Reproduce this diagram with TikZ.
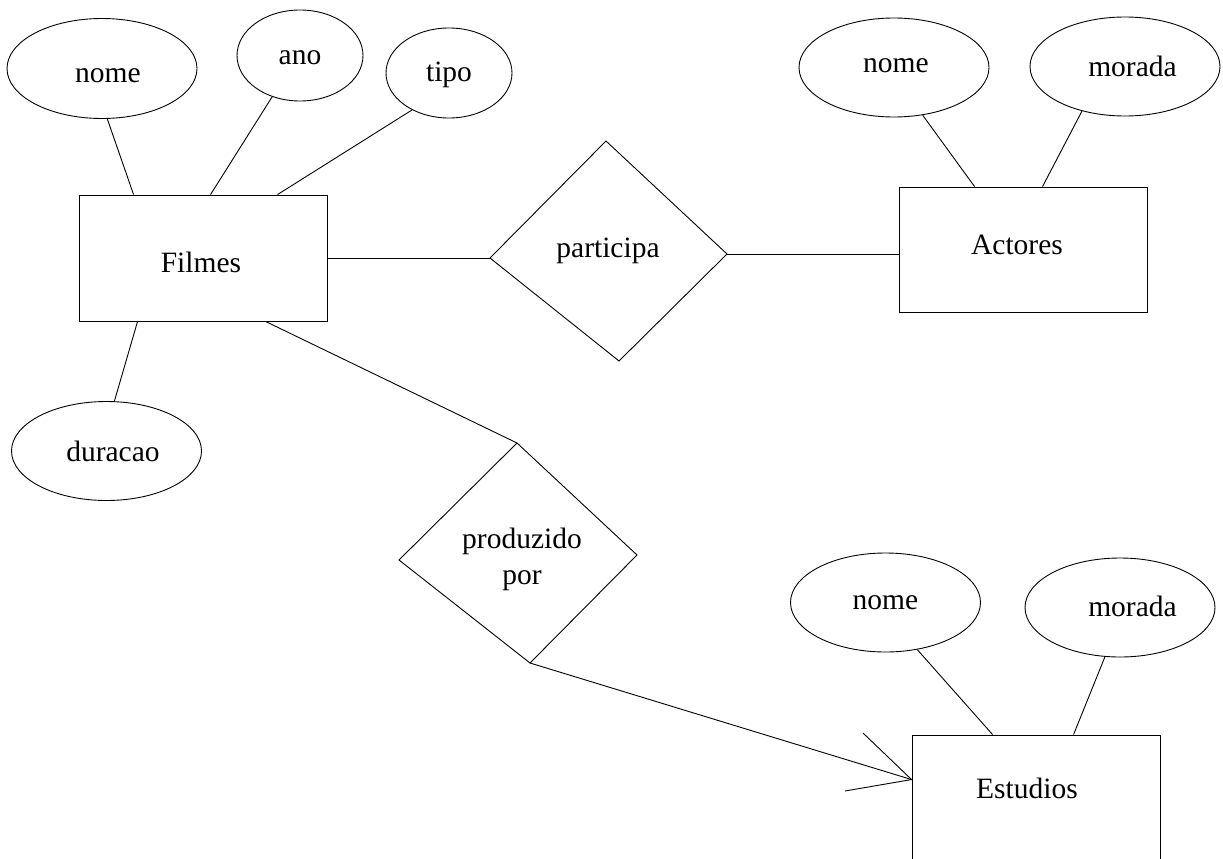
\documentclass[tikz,border=0pt]{standalone}
\usepackage{fontspec}
\setmainfont{Liberation Serif}
\usetikzlibrary{shapes.geometric}
\begin{document}
\begin{tikzpicture}[x=1pt,y=-1pt,line width=0.9pt,
  every node/.style={font=\fontsize{29.5}{36}\selectfont},
  entity/.style={draw,rectangle,inner sep=0pt,minimum width=248pt},
  attr/.style={draw,ellipse,inner sep=0pt},
  reltext/.style={inner sep=0pt,align=center},
  link/.style={draw,line width=0.9pt}]
\useasboundingbox (0,0) rectangle (1223,859);
\clip (0,0) rectangle (1223,859);
% entities
\node[entity,minimum height=126pt,label={[xshift=-2pt,yshift=-4pt]center:Filmes}] (filmes) at (203,258) {};
\node[entity,minimum height=125pt,label={[xshift=-6pt,yshift=5pt]center:Actores}] (actores) at (1023,249.5) {};
\node[entity,minimum height=127pt,label={[xshift=-9pt,yshift=10.5pt]center:Estudios}] (estudios) at (1036,798.5) {};
% attributes
\node[attr,minimum width=190pt,minimum height=100pt,label={[xshift=6pt,yshift=-7pt]center:nome}] (nomeF) at (102,68.5) {};
\node[attr,minimum width=126pt,minimum height=91pt,label={[yshift=-2pt]center:ano}] (anoF) at (300,55.5) {};
\node[attr,minimum width=126pt,minimum height=90pt,label={[yshift=-2pt]center:tipo}] (tipoF) at (449,73) {};
\node[attr,minimum width=190pt,minimum height=99pt,label={[xshift=6.5pt]center:duracao}] (duracaoF) at (106.5,451) {};
\node[attr,minimum width=190pt,minimum height=99pt,label={[xshift=2pt,yshift=2pt]center:nome}] (nomeA) at (894,67.5) {};
\node[attr,minimum width=190pt,minimum height=99pt,label={[xshift=7.5pt]center:morada}] (moradaA) at (1125,66.5) {};
\node[attr,minimum width=190pt,minimum height=99pt,label={center:nome}] (nomeE) at (885.5,602.5) {};
\node[attr,minimum width=190pt,minimum height=99pt,label={[xshift=12.5pt,yshift=1.5pt]center:morada}] (moradaE) at (1120,607.5) {};
% relationships (text and their four-cornered outlines)
\node[reltext] (participa) at (608,250.5) {participa};
\coordinate (pL) at (490,258);
\coordinate (pT) at (606,141);
\coordinate (pR) at (727,254);
\coordinate (pB) at (619,361);
\draw[link] (pL) -- (pT) -- (pR) -- (pB) -- cycle;
\node[reltext] (produzido) at (522,559) {produzido\\por};
\coordinate (qT) at (517,443);
\coordinate (qR) at (637,555);
\coordinate (qB) at (530,663);
\coordinate (qL) at (399,560);
\draw[link] (qT) -- (qR) -- (qB) -- (qL) -- cycle;
% attribute links
\draw[link] (nomeF.-84) -- ([xshift=55pt]filmes.north west);
\draw[link] (anoF.-124) -- ([xshift=132pt]filmes.north west);
\draw[link] (tipoF.-135) -- ([xshift=199pt]filmes.north west);
\draw[link] ([xshift=59pt]filmes.south west) -- (duracaoF.81);
\draw[link] (nomeA.-59) -- ([xshift=76pt]actores.north west);
\draw[link] (moradaA.-134) -- ([xshift=144pt]actores.north west);
\draw[link] (nomeE.-56) -- ([xshift=81pt]estudios.north west);
\draw[link] (moradaE.-107) -- ([xshift=162pt]estudios.north west);
% relationship links
\draw[link] (filmes.east |- pL) -- (pL);
\draw[link] (pR) -- (pR -| actores.west);
\draw[link] ([xshift=187pt]filmes.south west) -- (qT);
\coordinate (eIn) at ([yshift=-45pt]estudios.north west);
\coordinate (cfA) at (863,733);
\coordinate (cfB) at (845,791);
\draw[link] (qB) -- (eIn);
\draw[link] (cfA) -- (eIn) -- (cfB);
\end{tikzpicture}
\end{document}
